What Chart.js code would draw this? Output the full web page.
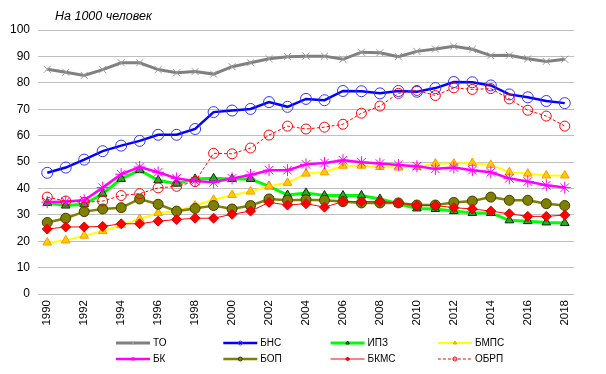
<!DOCTYPE html>
<html>
<head>
<meta charset="utf-8">
<script src="https://cdn.jsdelivr.net/npm/chart.js@4/dist/chart.umd.min.js"></script>
<style>
  html, body { margin: 0; padding: 0; background: #fff; }
  #wrap { position: relative; width: 606px; height: 374px; }
</style>
</head>
<body>
<div id="wrap"><canvas id="chart"></canvas></div>
<script>
// Годы и показатели на 1000 человек
const years = [];
for (let y = 1990; y <= 2018; y++) years.push(String(y));

const yTicks = [0, 10, 20, 30, 40, 50, 60, 70, 80, 90, 100];

const seriesNames = ['ТО', 'БНС', 'ИПЗ', 'БМПС', 'БК', 'БОП', 'БКМС', 'ОБРП'];

const to   = [85.1, 84.0, 82.8, 85.0, 87.6, 87.6, 85.0, 83.8, 84.3, 83.3, 86.1, 87.6, 89.1, 89.9, 90.1,
              90.1, 88.9, 91.6, 91.4, 89.9, 91.9, 92.8, 93.8, 92.7, 90.3, 90.4, 89.1, 88.1, 88.9];
const bns  = [45.9, 47.9, 50.9, 54.1, 56.2, 58.0, 60.3, 60.3, 62.5, 68.9, 69.5, 70.1, 72.7, 70.9, 73.9,
              73.4, 76.9, 76.8, 76.0, 76.9, 76.6, 78.0, 80.3, 80.2, 79.0, 75.6, 74.5, 73.1, 72.3];
const ipz  = [34.5, 33.5, 34.0, 38.0, 43.6, 46.9, 43.1, 41.8, 43.6, 43.8, 43.6, 43.6, 40.8, 37.5, 38.3,
              37.3, 37.3, 37.3, 36.0, 34.2, 32.4, 32.2, 31.4, 30.7, 30.7, 27.9, 27.6, 27.1, 26.9];
const bmps = [19.5, 20.3, 22.1, 23.8, 26.1, 28.4, 30.7, 31.4, 33.5, 35.7, 37.5, 38.8, 40.8, 42.1, 45.6,
              46.1, 48.6, 48.6, 48.1, 47.9, 48.1, 49.4, 49.4, 49.6, 48.9, 46.1, 45.6, 44.9, 44.9];
const bk   = [34.8, 35.0, 35.5, 40.3, 45.4, 48.1, 46.1, 43.8, 42.8, 42.3, 43.8, 45.1, 46.9, 46.9, 49.1,
              49.6, 50.7, 49.9, 49.4, 48.9, 48.4, 47.4, 47.9, 46.9, 46.1, 43.8, 42.6, 41.2, 40.3];
const bop  = [27.1, 28.7, 31.2, 32.2, 32.7, 36.0, 34.0, 31.4, 32.4, 33.5, 32.2, 33.5, 36.0, 35.5, 35.7,
              35.5, 35.0, 34.5, 34.5, 34.5, 33.7, 33.7, 34.7, 35.2, 36.7, 35.5, 35.5, 34.2, 33.5];
const bkms = [24.6, 25.4, 25.4, 25.6, 26.6, 26.6, 27.6, 28.2, 28.7, 28.7, 30.2, 31.4, 34.7, 33.7, 34.2,
              32.9, 35.0, 35.0, 35.0, 34.5, 33.5, 33.5, 32.7, 32.2, 31.4, 30.4, 29.4, 29.4, 29.9];
const obrp = [36.7, 35.2, 34.7, 35.2, 37.3, 38.0, 40.2, 40.8, 42.6, 53.3, 53.1, 55.3, 60.2, 63.6, 62.5,
              63.2, 64.3, 68.5, 71.2, 76.0, 77.1, 75.2, 78.1, 77.5, 77.8, 73.9, 69.6, 67.4, 63.6];

const FONT = "'Liberation Sans', Arial, sans-serif";

const styles = [
  { line: '#808080', width: 3,   point: 'crossRot', radius: 5,   bg: 'rgba(0,0,0,0)', border: '#9a9a9a', bw: 1 },
  { line: '#0000ff', width: 2.5, point: 'circle',   radius: 5.5, bg: 'rgba(0,0,0,0)', border: '#3333ff', bw: 1 },
  { line: '#00ff00', width: 3,   point: 'triangle', radius: 5,   bg: '#22b022',       border: '#003300', bw: 1 },
  { line: '#ffff00', width: 2,   point: 'triangle', radius: 5,   bg: '#ffcc00',       border: '#ff9900', bw: 1 },
  { line: '#ff00ff', width: 2.5, point: 'star',     radius: 6,   bg: 'rgba(0,0,0,0)', border: '#ff00ff', bw: 1 },
  { line: '#808000', width: 2.5, point: 'circle',   radius: 5,   bg: '#808000',       border: '#404000', bw: 1 },
  { line: '#ff0000', width: 1,   point: 'rectRot',  radius: 5,   bg: '#ff0000',       border: '#dd0000', bw: 1 },
  { line: '#ff0000', width: 1,   point: 'circle',   radius: 5,   bg: 'rgba(0,0,0,0)', border: '#ff0000', bw: 1, dash: [3, 2] }
];

const values = [to, bns, ipz, bmps, bk, bop, bkms, obrp];

const datasets = values.map((data, i) => {
  const s = styles[i];
  return {
    label: seriesNames[i],
    data: data,
    borderColor: s.line,
    borderWidth: s.width,
    borderDash: s.dash || [],
    pointStyle: s.point,
    pointRadius: s.radius,
    pointBackgroundColor: s.bg,
    pointBorderColor: s.border,
    pointBorderWidth: s.bw,
    fill: false,
    tension: 0,
    order: values.length - i
  };
});

// Title text and two-row legend drawn on the canvas
const decorPlugin = {
  id: 'decor',
  afterDraw(chart) {
    const ctx = chart.ctx;
    ctx.save();
    ctx.fillStyle = '#000';
    ctx.font = 'italic 12.5px ' + FONT;
    ctx.textBaseline = 'alphabetic';
    ctx.textAlign = 'left';
    ctx.fillText('На 1000 человек', 55, 20);

    ctx.font = '10px ' + FONT;
    ctx.textBaseline = 'middle';
    chart.data.datasets.forEach((ds, i) => {
      const col = i % 4, row = Math.floor(i / 4);
      const x0 = 116 + col * 107.3;
      const y = 343 + row * 16;
      ctx.save();
      ctx.strokeStyle = ds.borderColor;
      ctx.lineWidth = ds.borderWidth;
      ctx.setLineDash(ds.borderDash || []);
      ctx.beginPath();
      ctx.moveTo(x0, y);
      ctx.lineTo(x0 + 34, y);
      ctx.stroke();
      ctx.setLineDash([]);
      if (Chart.helpers && Chart.helpers.drawPoint) {
        ctx.fillStyle = ds.pointBackgroundColor;
        ctx.strokeStyle = ds.pointBorderColor;
        ctx.lineWidth = 1;
        Chart.helpers.drawPoint(ctx, {
          pointStyle: ds.pointStyle,
          radius: 2,
          rotation: 0,
          borderWidth: 1
        }, x0 + 17, y);
      }
      ctx.restore();
      ctx.fillStyle = '#000';
      ctx.fillText(ds.label, x0 + 37, y + 0.5);
    });
    ctx.restore();
  }
};

new Chart(document.getElementById('chart'), {
  type: 'line',
  data: { labels: years, datasets: datasets },
  options: {
    responsive: true,
    maintainAspectRatio: false,
    animation: false,
    layout: { padding: { top: 30, right: 32, left: 0, bottom: 0 } },
    plugins: {
      legend: { display: false },
      tooltip: { enabled: false }
    },
    scales: {
      x: {
        offset: true,
        grid: { display: false, drawTicks: false },
        border: { display: false },
        afterFit: (s) => { s.height = 80; },
        ticks: {
          autoSkip: false,
          maxRotation: 90,
          minRotation: 90,
          padding: 6,
          color: '#000',
          font: { family: FONT, size: 11.5 },
          callback: function (v, i) {
            const lbl = this.getLabelForValue(v);
            return Number(lbl) % 2 === 0 ? lbl : '';
          }
        }
      },
      y: {
        min: 0,
        max: 100,
        afterFit: (s) => { s.width = 38; },
        afterBuildTicks: (s) => { s.ticks = yTicks.map(v => ({ value: v })); },
        grid: { color: '#bfbfbf', lineWidth: 1, drawTicks: false },
        border: { display: false },
        ticks: {
          padding: 8,
          color: '#000',
          font: { family: FONT, size: 12 }
        }
      }
    }
  },
  plugins: [decorPlugin]
});
</script>
</body>
</html>
